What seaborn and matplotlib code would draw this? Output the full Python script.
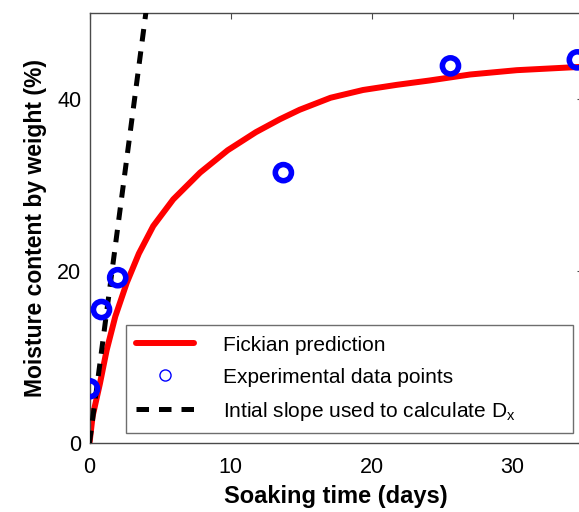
import numpy as np
import pandas as pd
import matplotlib
matplotlib.use("Agg")
import matplotlib.pyplot as plt
from matplotlib.lines import Line2D
import seaborn as sns

# ---- data ----
fick_t = [0.0, 0.22, 0.74, 1.22, 1.83, 2.64, 3.5, 4.52, 5.94, 7.84, 9.8,
          11.8, 13.5, 14.9, 17.1, 19.4, 21.8, 24.1, 27.0, 30.3, 35.0]
fick_m = [0.0, 3.1, 6.9, 10.8, 14.7, 18.6, 22.0, 25.2, 28.3, 31.4, 34.0,
          36.1, 37.6, 38.7, 40.1, 41.0, 41.6, 42.1, 42.8, 43.3, 43.7]

exp_t = [0.0, 0.85, 2.0, 13.75, 25.6, 34.6]
exp_m = [6.3, 15.5, 19.2, 31.4, 43.8, 44.5]

slope_t = [0.0, 4.4]
slope_m = [0.0, 55.0]

XTICKS = [0, 10, 20, 30]
YTICKS = [0, 20, 40]

DASH = [2.5, 2.0]

sns.set_style("white")
plt.rcParams['font.family'] = ['Liberation Sans', 'DejaVu Sans']
plt.rcParams['text.color'] = 'black'
plt.rcParams['axes.labelcolor'] = 'black'
plt.rcParams['xtick.color'] = 'black'
plt.rcParams['ytick.color'] = 'black'
plt.rcParams['mathtext.fontset'] = 'custom'
plt.rcParams['mathtext.rm'] = 'Liberation Sans'

fig = plt.figure(figsize=(5.79, 5.12), dpi=100)
ax = fig.add_axes([89.5 / 579, 69 / 512, (583 - 89.5) / 579, (443 - 12.5) / 512])

df_fick = pd.DataFrame({"t": fick_t, "m": fick_m})
df_exp = pd.DataFrame({"t": exp_t, "m": exp_m})
df_slope = pd.DataFrame({"t": slope_t, "m": slope_m})

sns.lineplot(data=df_fick, x="t", y="m", ax=ax, color="#ff0000",
             linewidth=4.3, zorder=2)
sns.lineplot(data=df_slope, x="t", y="m", ax=ax, color="black",
             linewidth=3.6, zorder=3)
ax.lines[-1].set_dashes(DASH)
sns.scatterplot(data=df_exp, x="t", y="m", ax=ax, marker="o",
                s=135, facecolor="none", edgecolor="#0000ff",
                linewidth=4.0, zorder=4)

ax.set_xlim(0, 35)
ax.set_ylim(0, 50)
ax.set_xticks(XTICKS)
ax.set_yticks(YTICKS)
ax.set_xlabel("Soaking time (days)", fontsize=17, fontweight="bold", labelpad=5)
ax.set_ylabel("Moisture content by weight (%)", fontsize=16.5, fontweight="bold",
              labelpad=7)

for sp in ax.spines.values():
    sp.set_visible(True)
    sp.set_color("#4a4a4a")
    sp.set_linewidth(1.0)
ax.tick_params(direction="in", length=4, width=0.8, color="#4a4a4a",
               labelsize=15.5, labelcolor="black", top=True, right=True, pad=6)
ax.tick_params(axis="x", pad=10)

handles = [
    Line2D([], [], color="#ff0000", lw=4.3),
    Line2D([], [], color="#0000ff", marker="o", ls="none", ms=8,
           mfc="none", mew=1.0),
    Line2D([], [], color="black", lw=3.6, dashes=DASH),
]
labels = ["Fickian prediction", "Experimental data points",
          r"Intial slope used to calculate D$_{\mathregular{x}}$"]
leg = ax.legend(handles, labels, loc="lower left", mode="expand",
                bbox_to_anchor=(126 / 579, 79 / 512, 447 / 579, 112 / 512),
                bbox_transform=fig.transFigure, borderaxespad=0,
                fontsize=15, frameon=True, fancybox=False,
                handlelength=2.75, handletextpad=1.4, labelspacing=0.62,
                borderpad=0.5)
leg.get_frame().set_edgecolor("#4a4a4a")
leg.get_frame().set_linewidth(1.0)

fig.savefig("out.png", dpi=100)
